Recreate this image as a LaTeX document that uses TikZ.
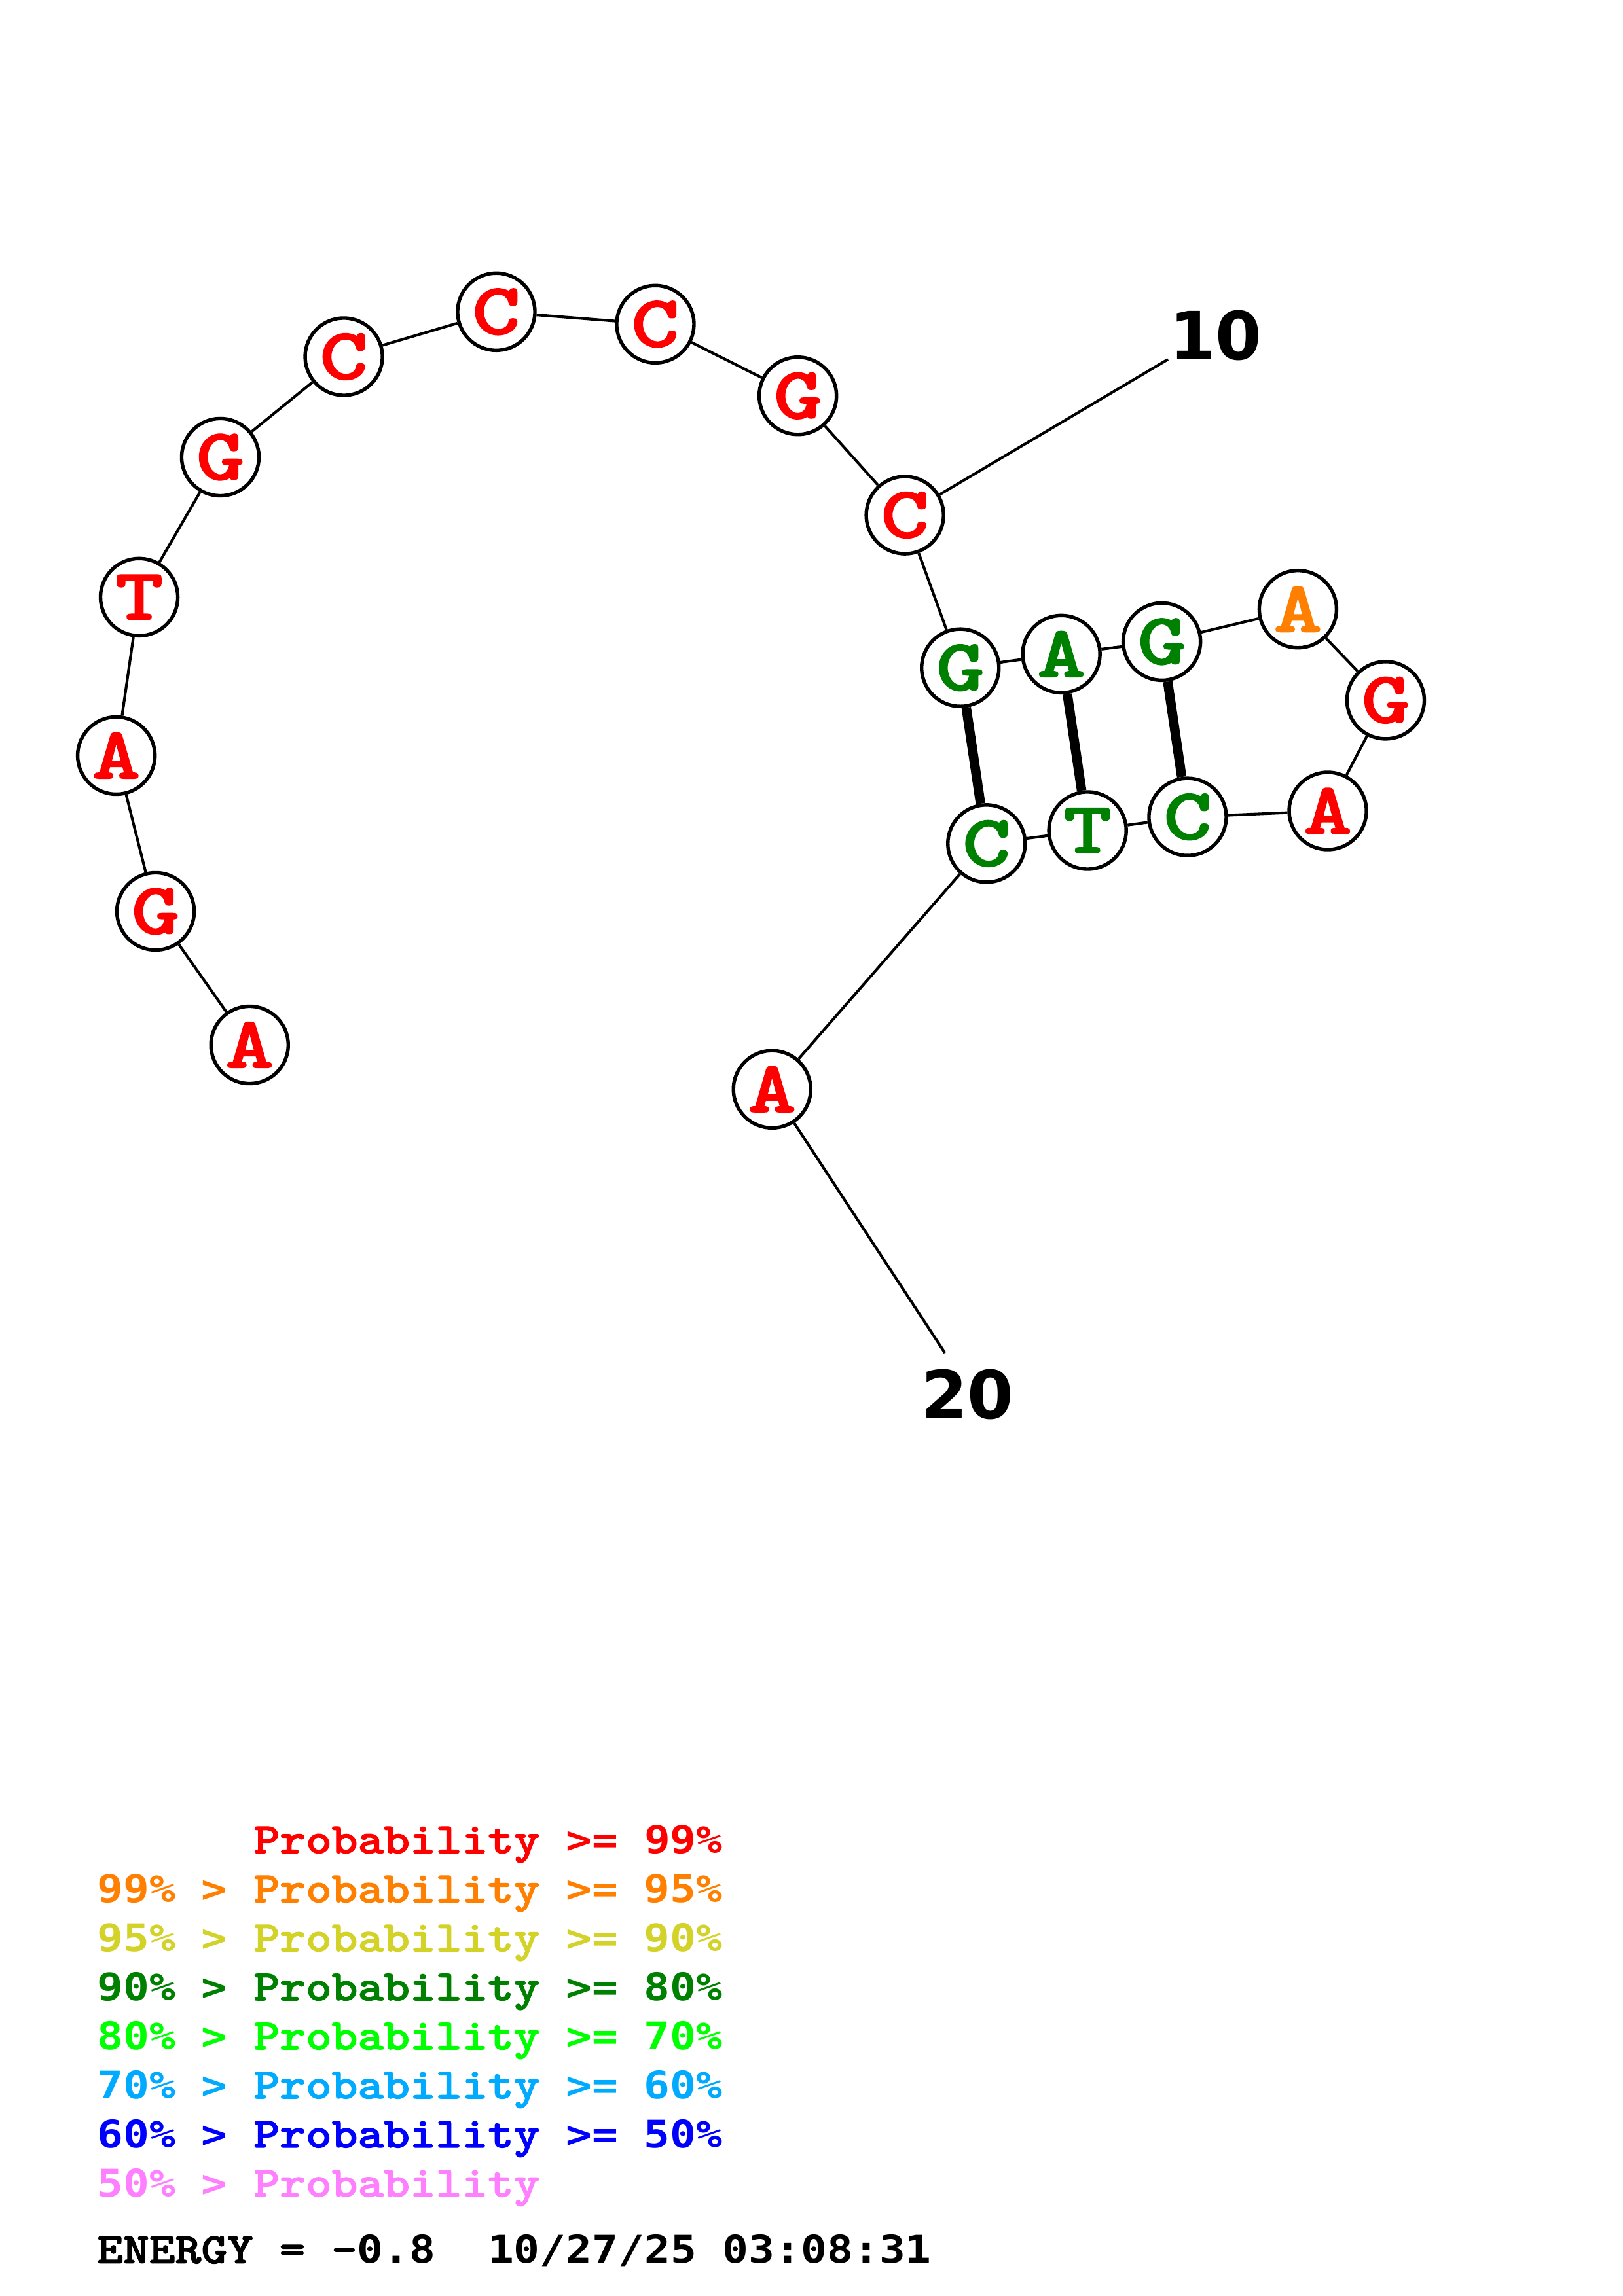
\documentclass[tikz,border=0pt]{standalone}
\usepackage{fontspec}
\usepackage{xcolor}
\usepackage{graphicx}
\newfontfamily\numfont{DejaVu Sans}
\newfontfamily\digfont{DejaVu Sans Mono}
\newfontfamily\courf{lmmonolt10-bold.otf}[FakeBold=1.6]
\newfontfamily\courl{lmmonolt10-bold.otf}[FakeBold=1.4]
\definecolor{pa}{RGB}{255,0,0}
\definecolor{pb}{RGB}{255,128,0}
\definecolor{pc}{RGB}{210,210,40}
\definecolor{pd}{RGB}{0,128,0}
\definecolor{pe}{RGB}{0,255,0}
\definecolor{pf}{RGB}{0,170,255}
\definecolor{pg}{RGB}{0,0,255}
\definecolor{ph}{RGB}{255,128,255}
\newcommand{\bl}[1]{\scalebox{1.25}[1]{#1}}
\newcommand{\legtext}[1]{\scalebox{1.14}[1]{\courf\fontsize{16}{16}\selectfont #1}}
\newcommand{\dg}[1]{{\digfont\bfseries\fontsize{14}{14}\selectfont #1}}
\tikzset{
  base/.style={circle, draw, line width=1.3pt, fill=white, minimum size=10mm,
    inner sep=0pt, font=\courl\fontsize{27}{27}\selectfont},
  bond/.style={line width=1pt},
  pair/.style={line width=3.5pt},
  numlabel/.style={anchor=base, inner sep=0pt, font=\numfont\bfseries\fontsize{24.5}{24.5}\selectfont},
  legend/.style={anchor=base west, inner sep=0pt},
}

\begin{document}
\begin{tikzpicture}[x=0.0189531cm, y=-0.0189531cm]
\useasboundingbox (0,0) rectangle (1108,1568);
%% bases
\node[base, text=pa] (a1)  at (170.4,713.6) {\bl{A}};
\node[base, text=pa] (g2)  at (106.2,622.4) {\bl{G}};
\node[base, text=pa] (a3)  at (79.4,516.0) {\bl{A}};
\node[base, text=pa] (t4)  at (95.0,407.8) {\bl{T}};
\node[base, text=pa] (g5)  at (150.4,312.2) {\bl{G}};
\node[base, text=pa] (c6)  at (234.7,243.6) {\bl{C}};
\node[base, text=pa] (c7)  at (338.8,212.9) {\bl{C}};
\node[base, text=pa] (c8)  at (447.4,221.4) {\bl{C}};
\node[base, text=pa] (g9)  at (544.7,270.3) {\bl{G}};
\node[base, text=pa] (c10) at (617.8,351.8) {\bl{C}};
\node[base, text=pd] (g11) at (655.6,456.0) {\bl{G}};
\node[base, text=pd] (a12) at (724.6,446.7) {\bl{A}};
\node[base, text=pd] (g13) at (793.2,438.2) {\bl{G}};
\node[base, text=pb] (a14) at (886.1,416.0) {\bl{A}};
\node[base, text=pa] (g15) at (946.0,478.2) {\bl{G}};
\node[base, text=pa] (a16) at (906.5,553.8) {\bl{A}};
\node[base, text=pd] (c17) at (810.8,557.9) {\bl{C}};
\node[base, text=pd] (t18) at (742.5,567.2) {\bl{T}};
\node[base, text=pd] (c19) at (673.5,576.1) {\bl{C}};
\node[base, text=pa] (a20) at (527.1,743.9) {\bl{A}};
%% backbone
\foreach \u/\v in {a1/g2, g2/a3, a3/t4, t4/g5, g5/c6, c6/c7, c7/c8, c8/g9, g9/c10,
  c10/g11, g11/a12, a12/g13, g13/a14, a14/g15, g15/a16, a16/c17, c17/t18, t18/c19, c19/a20}
  \draw[bond] (\u) -- (\v);
%% pairs
\draw[pair] (g11) -- (c19);
\draw[pair] (a12) -- (t18);
\draw[pair] (g13) -- (c17);
%% numbering
\node[numlabel] (n10) at (830,245.4) {10};
\coordinate (t10) at (797.4,245.4);
\draw[bond] (c10) -- (t10);
\node[numlabel] (n20) at (660.6,969) {20};
\coordinate (t20) at (645.1,923.9);
\draw[bond] (a20) -- (t20);
%% legend
\node[legend, text=pa] (l1) at (172.9,1265.6) {\legtext{Probability \dg{>= 99\%}}};
\node[legend, text=pb] (l2) at (66,1299.1) {\legtext{\dg{99\% >} Probability \dg{>= 95\%}}};
\node[legend, text=pc] (l3) at (66,1332.6) {\legtext{\dg{95\% >} Probability \dg{>= 90\%}}};
\node[legend, text=pd] (l4) at (66,1366.1) {\legtext{\dg{90\% >} Probability \dg{>= 80\%}}};
\node[legend, text=pe] (l5) at (66,1399.6) {\legtext{\dg{80\% >} Probability \dg{>= 70\%}}};
\node[legend, text=pf] (l6) at (66,1433.1) {\legtext{\dg{70\% >} Probability \dg{>= 60\%}}};
\node[legend, text=pg] (l7) at (66,1466.6) {\legtext{\dg{60\% >} Probability \dg{>= 50\%}}};
\node[legend, text=ph] (l8) at (66,1500.1) {\legtext{\dg{50\% >} Probability}};
\node[legend] (energy) at (66,1545.6) {\legtext{ENERGY = -\dg{0.8\ \ 10/27/25 03:08:31}}};
\end{tikzpicture}
\end{document}
